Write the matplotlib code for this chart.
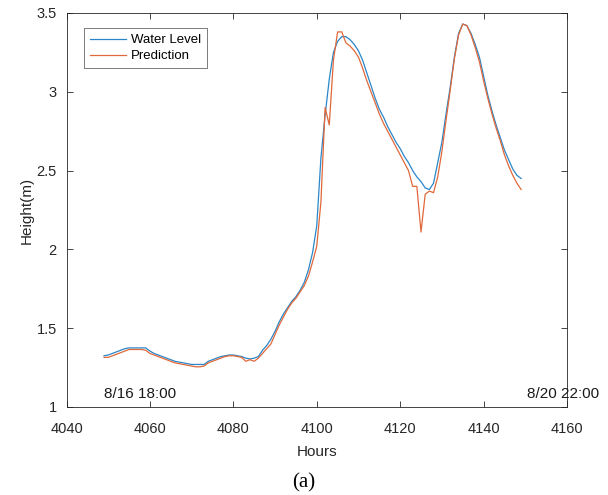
import numpy as np
import matplotlib
matplotlib.use("Agg")
import matplotlib.pyplot as plt

hours = np.arange(4049, 4150)

water_level = [
    1.325, 1.33, 1.34, 1.35, 1.36, 1.37, 1.375, 1.375, 1.375, 1.375,
    1.375, 1.355, 1.34, 1.33, 1.32, 1.31, 1.30, 1.29, 1.285, 1.28,
    1.275, 1.27, 1.27, 1.27, 1.27, 1.29, 1.30, 1.31, 1.32, 1.325,
    1.33, 1.33, 1.325, 1.32, 1.31, 1.305, 1.31, 1.32, 1.36, 1.39,
    1.43, 1.48, 1.54, 1.59, 1.63, 1.67, 1.70, 1.74, 1.79, 1.87,
    1.98, 2.15, 2.58, 2.85, 3.08, 3.25, 3.32, 3.35, 3.35, 3.33,
    3.30, 3.26, 3.20, 3.12, 3.04, 2.96, 2.89, 2.84, 2.78, 2.73,
    2.68, 2.64, 2.59, 2.55, 2.50, 2.46, 2.43, 2.39, 2.38, 2.42,
    2.55, 2.68, 2.86, 3.03, 3.22, 3.37, 3.43, 3.42, 3.37, 3.30,
    3.22, 3.10, 2.98, 2.88, 2.79, 2.71, 2.63, 2.57, 2.51, 2.47,
    2.45,
]

prediction = [
    1.315, 1.315, 1.325, 1.335, 1.345, 1.355, 1.365, 1.365, 1.365, 1.365,
    1.36, 1.34, 1.33, 1.32, 1.31, 1.30, 1.29, 1.28, 1.275, 1.27,
    1.265, 1.26, 1.255, 1.255, 1.26, 1.28, 1.29, 1.30, 1.31, 1.32,
    1.325, 1.325, 1.32, 1.315, 1.29, 1.30, 1.29, 1.31, 1.34, 1.37,
    1.40, 1.46, 1.52, 1.57, 1.62, 1.66, 1.69, 1.73, 1.77, 1.83,
    1.92, 2.02, 2.30, 2.90, 2.79, 3.20, 3.38, 3.38, 3.31, 3.29,
    3.26, 3.22, 3.15, 3.07, 3.00, 2.93, 2.86, 2.80, 2.75, 2.70,
    2.65, 2.60, 2.55, 2.50, 2.40, 2.40, 2.11, 2.35, 2.37, 2.36,
    2.46, 2.62, 2.82, 3.01, 3.21, 3.36, 3.43, 3.42, 3.36, 3.28,
    3.19, 3.07, 2.96, 2.86, 2.77, 2.69, 2.60, 2.53, 2.47, 2.42,
    2.38,
]

plt.rcParams["font.family"] = ["Liberation Sans", "DejaVu Sans"]
fig = plt.figure(figsize=(6.08, 4.95), dpi=100)
ax = fig.add_axes([66.5 / 608, 88 / 495, 500.5 / 608, 394 / 495])

ax.plot(hours, water_level, color="#2a86c8", lw=0.9, label="Water Level")
ax.plot(hours, prediction, color="#e0683a", lw=0.9, label="Prediction")

ax.set_xlim(4040, 4160)
ax.set_ylim(1, 3.5)
ax.set_xticks(np.arange(4040, 4161, 20))
ax.set_yticks([1, 1.5, 2, 2.5, 3, 3.5])
ax.set_yticklabels(["1", "1.5", "2", "2.5", "3", "3.5"])
ax.tick_params(direction="in", top=True, right=True, labelsize=10.5,
               colors="#262626", length=4, width=0.6)
ax.tick_params(axis="x", pad=11)
ax.tick_params(axis="y", pad=7)
for s in ax.spines.values():
    s.set_color("#262626")
    s.set_linewidth(0.6)

ax.set_xlabel("Hours", fontsize=11, color="#262626", labelpad=6)
ax.set_ylabel("Height(m)", fontsize=11, color="#262626", labelpad=2)

ax.text(4049, 1.06, "8/16 18:00", fontsize=11, color="#1a1a1a")
ax.text(4150.5, 1.06, "8/20 22:00", fontsize=11, color="#1a1a1a", clip_on=False)

leg = ax.legend(loc="upper left", bbox_to_anchor=(0.035, 0.962), fontsize=9.5,
                frameon=True, fancybox=False, handlelength=2.7,
                borderpad=0.45, labelspacing=0.3, handletextpad=0.4,
                borderaxespad=0)
leg.get_frame().set_edgecolor("#404040")
leg.get_frame().set_linewidth(0.6)

fig.text(0.5, 0.015, "(a)", ha="center", fontsize=15,
         family=["Liberation Serif", "DejaVu Serif"])

fig.savefig("out.png", dpi=100)
